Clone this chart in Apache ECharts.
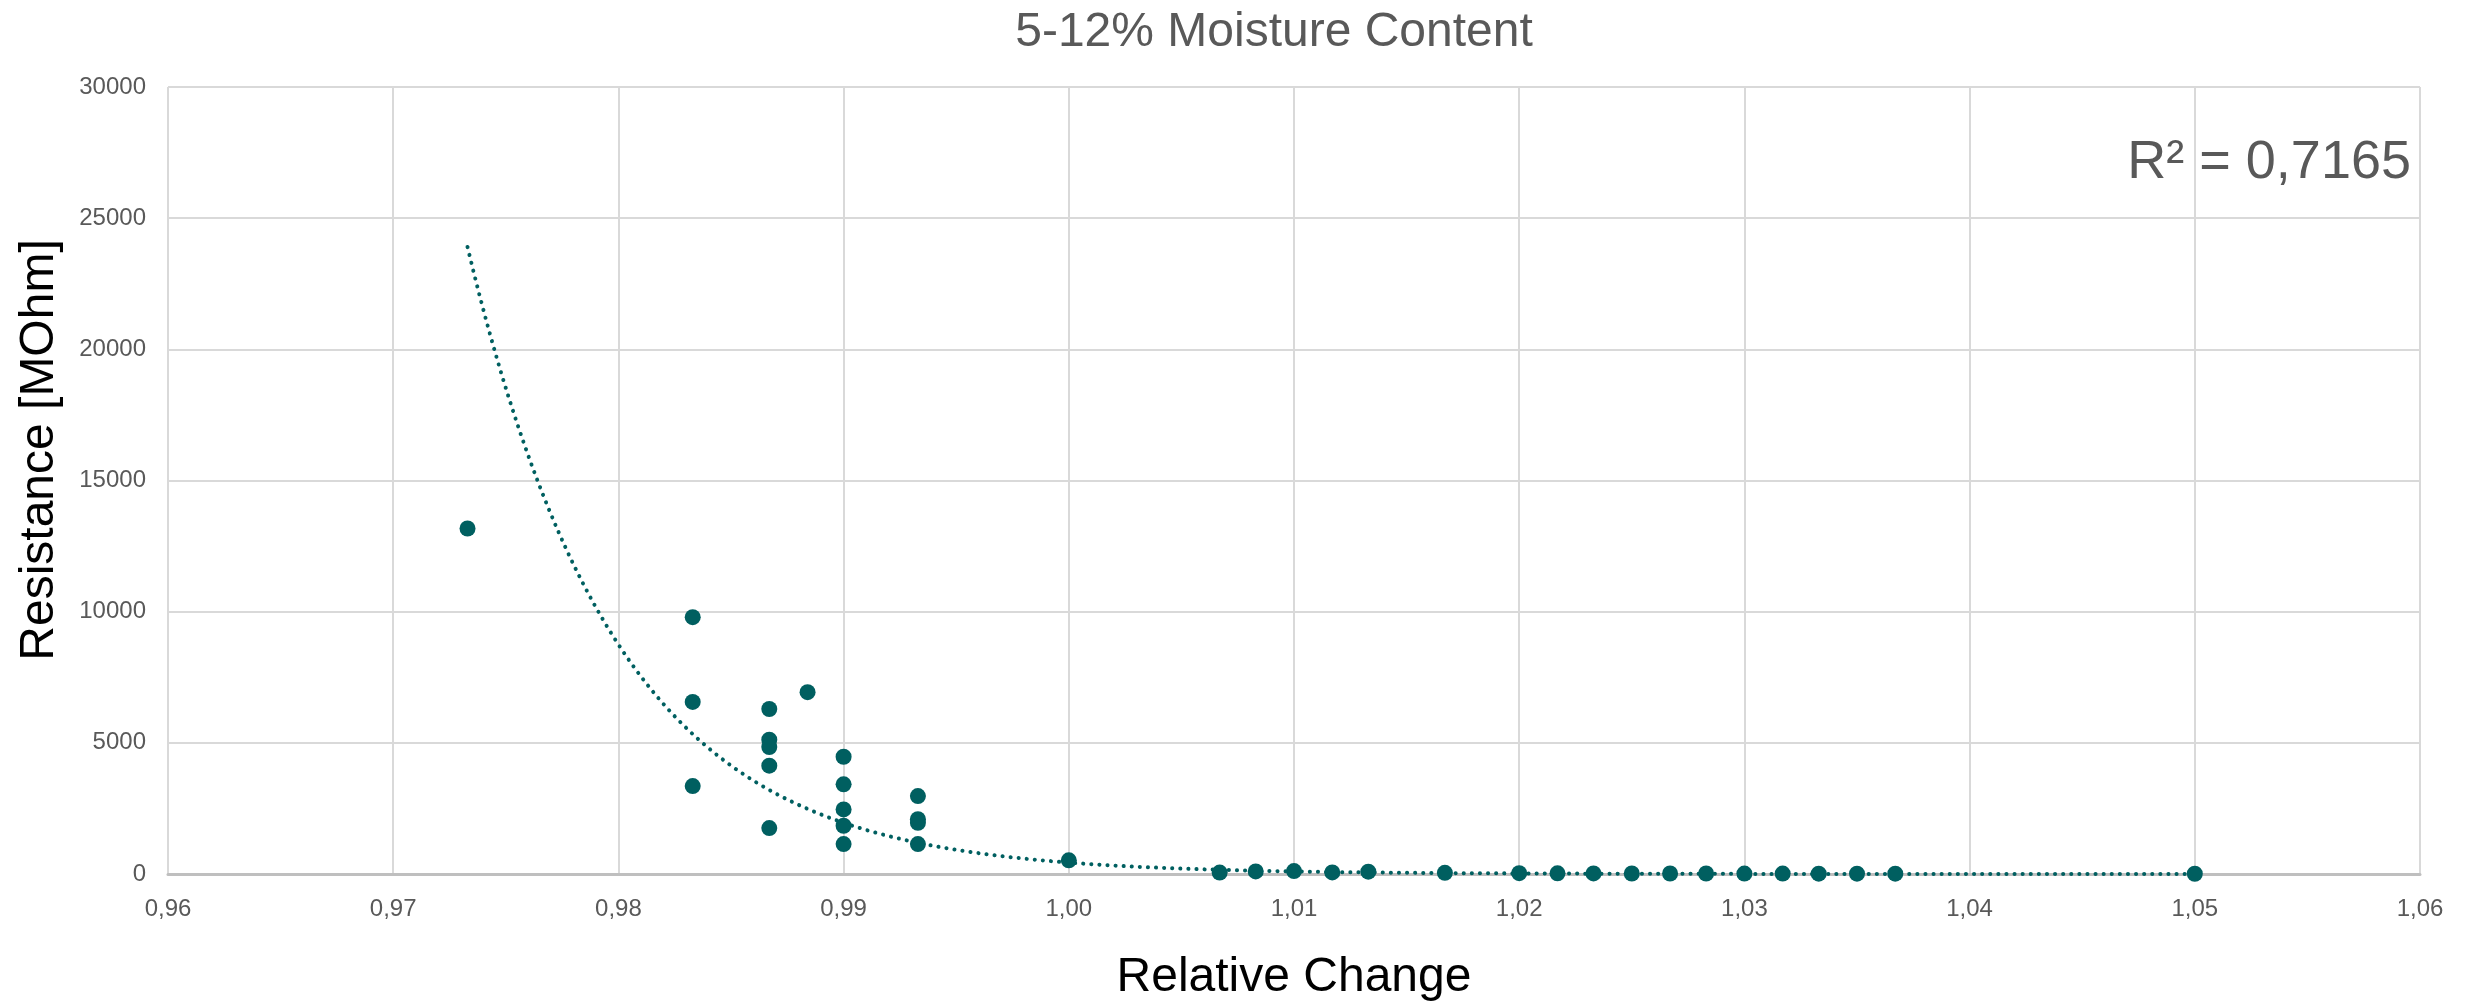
<!DOCTYPE html>
<html>
<head>
<meta charset="utf-8">
<title>5-12% Moisture Content</title>
<script src="https://cdn.jsdelivr.net/npm/echarts@6/dist/echarts.min.js"></script>
<style>
  html, body { margin: 0; padding: 0; background: #fff; }
  #chart { width: 2466px; height: 1001px; }
</style>
</head>
<body>
<div id="chart"></div>
<script>
// measured points: relative change vs resistance (MOhm)
var relChange = [
  0.9733,
  0.9833, 0.9833, 0.9833,
  0.9867, 0.9867, 0.9867, 0.9867, 0.9867,
  0.9884,
  0.9900, 0.9900, 0.9900, 0.9900, 0.9900,
  0.9933, 0.9933, 0.9933, 0.9933,
  1.0000,
  1.0067, 1.0083, 1.0100, 1.0117, 1.0133, 1.0167,
  1.0200, 1.0217, 1.0233, 1.0250, 1.0267, 1.0283,
  1.0300, 1.0317, 1.0333, 1.0350, 1.0367,
  1.0500
];
var resistance = [
  13170,
  9790, 6560, 3350,
  6290, 5120, 4840, 4130, 1750,
  6930,
  4470, 3420, 2460, 1840, 1140,
  2970, 2090, 1950, 1140,
  520,
  55, 100, 110, 60, 90, 45,
  30, 25, 22, 20, 20, 18,
  16, 15, 14, 13, 12,
  10
];
// exponential trendline: y = y0 * exp(rate * (x - x0))
var trendX0 = 0.9733;
var trendY0 = 23900;
var trendRate = -150;
var rSquaredText = 'R² = 0,7165';

var fmtComma = function (v, d) { return v.toFixed(d).replace('.', ','); };

var xMin = Math.min.apply(null, relChange);
var xMax = Math.max.apply(null, relChange);
var trendData = [];
for (var k = 0; k <= 300; k++) {
  var xv = xMin + (xMax - xMin) * k / 300;
  trendData.push([xv, trendY0 * Math.exp(trendRate * (xv - trendX0))]);
}

var points = relChange.map(function (x, i) { return [x, resistance[i]]; });

var chart = echarts.init(document.getElementById('chart'));
var option = {
  backgroundColor: '#ffffff',
  animation: false,
  title: {
    text: '5-12% Moisture Content',
    left: 1269,
    textAlign: 'center',
    top: 4,
    textStyle: { fontFamily: 'Liberation Sans', fontSize: 48, fontWeight: 'normal', color: '#595959' }
  },
  grid: { left: 168, right: 46, top: 87, bottom: 127, containLabel: false, outerBoundsMode: 'none' },
  xAxis: {
    type: 'value',
    min: 0.96,
    max: 1.06,
    interval: 0.01,
    name: 'Relative Change',
    nameLocation: 'middle',
    nameGap: 80,
    nameTextStyle: { fontFamily: 'Liberation Sans', fontSize: 48, color: '#000000' },
    axisLine: { show: true, lineStyle: { color: '#bfbfbf', width: 3 } },
    axisTick: { show: false },
    axisLabel: {
      margin: 23,
      fontFamily: 'Liberation Sans', fontSize: 24, color: '#595959',
      formatter: function (v) { return fmtComma(v, 2); }
    },
    splitLine: { show: true, lineStyle: { color: '#d9d9d9', width: 2 } }
  },
  yAxis: {
    type: 'value',
    min: 0,
    max: 30000,
    interval: 5000,
    axisLine: { show: false },
    axisTick: { show: false },
    axisLabel: {
      margin: 22, fontFamily: 'Liberation Sans', fontSize: 24, color: '#595959',
      formatter: function (v) { return String(v); }
    },
    splitLine: { show: true, lineStyle: { color: '#d9d9d9', width: 2 } }
  },
  graphic: [
    {
      type: 'text',
      x: 40,
      y: 450,
      rotation: Math.PI / 2,
      style: {
        text: 'Resistance [MOhm]',
        fontFamily: 'Liberation Sans',
        fontSize: 48,
        fill: '#000000',
        align: 'center',
        verticalAlign: 'middle'
      }
    },
    {
      type: 'text',
      right: 55,
      top: 136,
      style: {
        text: rSquaredText,
        fontFamily: 'Liberation Sans',
        fontSize: 54,
        fill: '#595959'
      }
    }
  ],
  series: [
    {
      name: 'Trend',
      type: 'line',
      data: trendData,
      showSymbol: false,
      smooth: false,
      z: 3,
      lineStyle: { color: '#005f60', width: 4, type: [0.1, 8], cap: 'round' }
    },
    {
      name: 'Resistance',
      type: 'scatter',
      data: points,
      symbol: 'circle',
      symbolSize: 16,
      z: 4,
      itemStyle: { color: '#005f60', opacity: 1 }
    }
  ]
};
chart.setOption(option);
</script>
</body>
</html>
